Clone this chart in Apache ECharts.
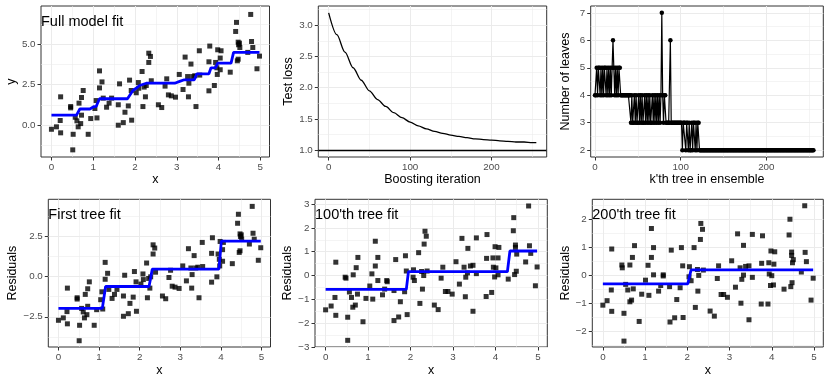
<!DOCTYPE html>
<html>
<head>
<meta charset="utf-8">
<script src="https://cdn.jsdelivr.net/npm/echarts@6/dist/echarts.min.js"></script>
<style>
  body { margin: 0; background: #fff; }
  #chart { width: 830px; height: 382px; }
</style>
</head>
<body>
<div id="chart"></div>
<script>
// ---- data ----
var xFull = [0,0.12,0.22,0.21,0.22,0.46,0.46,0.52,0.51,0.57,0.61,0.64,0.66,0.70,0.72,0.72,0.76,0.88,0.94,1.04,1.07,1.09,1.15,1.15,1.21,1.24,1.32,1.38,1.44,1.60,1.60,1.63,1.72,1.76,1.84,1.87,1.91,1.92,2.03,2.08,2.09,2.17,2.19,2.25,2.22,2.27,2.33,2.33,2.37,2.39,2.56,2.64,2.72,2.76,2.80,2.87,2.97,3.06,3.15,3.20,3.26,3.28,3.29,3.34,3.38,3.43,3.46,3.54,3.55,3.77,3.77,3.79,3.90,3.93,3.97,3.96,3.98,4.04,4.06,4.04,4.28,4.41,4.43,4.45,4.47,4.47,4.48,4.51,4.50,4.70,4.79,4.77,4.82,4.92,4.98];
var yFull = [-0.25,-0.1,1.75,0.29,-0.47,1.15,1.07,-0.56,-1.52,0.49,0.27,-0.1,1.36,0.1,0.62,1.71,2.14,-0.56,0.41,1.03,1.52,0.45,3.35,2.30,2.67,1.67,1.11,1.36,1.67,1.26,0.0,2.55,0.16,0.8,1.19,2.78,2.14,0.31,2.0,2.63,2.28,3.31,1.15,1.75,2.35,2.45,4.44,3.87,4.24,2.74,1.26,1.09,2.41,2.86,1.87,1.81,1.73,3.13,2.20,4.2,3.0,1.75,2.59,3.77,3.0,3.05,1.15,4.59,3.09,2.12,3.91,4.88,2.45,3.87,3.13,3.54,4.65,3.42,4.59,4.14,3.27,5.78,6.34,3.97,4.07,5.12,4.96,4.79,5.06,4.49,5.16,6.83,4.79,3.48,4.26];
var fitFullX = [0,0.60,0.68,0.92,1.02,1.07,1.15,1.82,1.95,2.03,2.11,2.27,2.95,3.07,3.18,3.42,3.48,3.77,3.82,3.93,3.98,4.30,4.36,4.98];
var fitFullY = [0.62,0.62,1.0,1.0,1.15,1.15,1.63,1.63,2.14,2.28,2.45,2.59,2.59,2.7,2.8,2.8,3.17,3.17,3.54,3.54,3.83,3.83,4.49,4.49];

var resid1 = [-2.72,-2.57,-0.72,-2.18,-2.94,-1.32,-1.40,-3.03,-3.99,-1.98,-2.20,-2.57,-1.11,-2.37,-1.85,-0.76,-0.33,-3.03,-2.06,-1.44,-0.95,-2.02,0.88,-0.17,0.20,-0.80,-1.36,-1.11,-0.80,-1.21,-2.47,0.08,-2.31,-1.67,-1.28,0.31,-0.33,-2.16,-0.47,0.16,-0.19,0.84,-1.32,-0.72,-0.12,-0.02,1.97,1.40,1.77,0.27,-1.21,-1.38,-0.06,0.39,-0.60,-0.66,-0.74,0.66,-0.27,1.73,0.53,-0.72,0.12,1.30,0.53,0.58,-1.32,2.12,0.62,-0.35,1.44,2.41,-0.02,1.40,0.66,1.07,2.18,0.95,2.12,1.67,0.80,3.31,3.87,1.50,1.60,2.65,2.49,2.32,2.59,2.02,2.69,4.36,2.32,1.01,1.79];
var fit1X = [0,1.08,1.16,2.23,2.31,3.95,4.01,4.98];
var fit1Y = [-1.98,-1.98,-0.62,-0.62,0.46,0.46,2.2,2.2];

var x100 = [0,0.13,0.22,0.24,0.24,0.46,0.48,0.52,0.52,0.56,0.61,0.65,0.64,0.70,0.72,0.75,0.76,0.88,0.95,1.04,1.09,1.11,1.17,1.17,1.23,1.23,1.34,1.39,1.44,1.45,1.61,1.61,1.65,1.72,1.76,1.86,1.88,1.90,1.92,2.06,2.07,2.09,2.19,2.22,2.26,2.28,2.31,2.32,2.34,2.37,2.39,2.56,2.65,2.72,2.76,2.82,2.88,2.98,3.07,3.15,3.21,3.26,3.29,3.30,3.34,3.35,3.41,3.47,3.47,3.55,3.55,3.78,3.79,3.80,3.91,3.94,3.95,3.98,3.99,4.01,4.06,4.06,4.08,4.30,4.42,4.43,4.45,4.47,4.47,4.49,4.50,4.71,4.78,4.80,4.83,4.94,4.98];
var resid100 = [-1.44,-1.28,-0.92,0.56,-1.67,-0.07,-0.11,-1.75,-2.72,-0.69,-0.92,0.03,-1.33,-1.24,0.33,-0.78,0.76,-1.94,-0.96,-0.44,0.07,-0.99,1.44,0.40,0.76,-0.21,-0.81,-0.57,-0.21,-0.26,-0.63,-1.89,0.67,-1.74,-1.10,-0.68,0.83,0.19,-1.64,-0.07,0.24,-0.21,0.96,-1.17,0.17,-0.57,0.0,1.32,1.86,1.65,0.19,-1.24,-1.43,-0.11,0.35,-0.67,-0.67,-0.78,0.58,-0.36,1.56,0.35,-0.89,-0.07,0.11,1.14,0.40,-1.5,0.43,0.08,1.58,-0.88,0.72,1.72,-0.71,0.74,0.35,-0.06,1.21,0.32,0.74,0.03,1.18,-0.15,1.88,2.43,0.04,1.28,1.18,0.18,0.90,0.57,2.92,1.25,0.93,-0.43,0.36];
var fit100X = [0,1.90,1.95,4.28,4.34,4.98];
var fit100Y = [-0.58,-0.58,0.16,0.16,1.03,1.03];

var x200 = [0,0.10,0.20,0.21,0.21,0.45,0.46,0.50,0.50,0.54,0.59,0.64,0.64,0.68,0.70,0.72,0.75,0.86,0.92,1.01,1.07,1.09,1.15,1.15,1.20,1.20,1.32,1.37,1.43,1.43,1.58,1.59,1.62,1.70,1.75,1.83,1.86,1.89,1.90,2.04,2.05,2.09,2.16,2.19,2.24,2.25,2.27,2.31,2.32,2.36,2.38,2.54,2.64,2.71,2.74,2.80,2.86,2.95,3.05,3.14,3.19,3.25,3.27,3.29,3.33,3.33,3.38,3.46,3.46,3.54,3.54,3.75,3.76,3.78,3.91,3.93,3.94,3.97,3.98,4.00,4.04,4.05,4.07,4.29,4.41,4.43,4.45,4.47,4.47,4.48,4.49,4.51,4.70,4.78,4.79,4.82,4.93,4.98];
var resid200 = [-1.06,-0.90,-0.52,0.94,-1.28,0.37,0.27,-1.35,-2.34,-0.32,-0.52,0.37,-0.94,-0.88,0.64,-0.48,1.06,-1.64,-0.67,-0.17,0.36,-0.71,1.67,0.64,0.99,0.02,-0.56,-0.36,0.02,-0.02,-0.40,-1.66,0.90,-1.51,-0.86,-0.44,0.99,0.34,-1.50,-0.05,0.31,-0.19,0.99,-1.14,0.21,-0.56,0.0,1.28,1.85,1.64,0.19,-1.27,-1.45,-0.11,0.34,-0.68,-0.68,-0.78,0.52,-0.42,1.48,0.27,-0.99,-0.14,0.01,1.07,0.32,-1.58,0.34,-0.07,1.46,-1.02,0.43,1.41,-1.02,0.45,0.05,-0.36,0.87,-0.01,-0.34,0.40,0.84,-0.49,1.44,2.0,-0.40,0.83,0.71,-0.26,0.45,0.56,0.12,2.48,0.82,0.49,-0.88,-0.10];
var fit200X = [0,2.01,2.05,2.09,4.98];
var fit200Y = [-0.3,-0.3,-0.05,0.2,0.2];

var lossIter = [0,10,20,30,40,50,60,70,80,90,100,110,120,130,140,150,160,170,180,190,200,210,220,230,240,250,255];
var lossVal = [3.20,2.85,2.57,2.32,2.12,1.95,1.81,1.70,1.60,1.52,1.45,1.39,1.34,1.30,1.27,1.24,1.22,1.20,1.18,1.17,1.16,1.15,1.14,1.13,1.13,1.12,1.12];
var baseLoss = 1.0;

// number of leaves of tree k (k = 0..255)
var leaves = [
  4,4,5,4,5,5,4,5,4,5,4,5,5,4,5,4,5,4,5,4,5,6,5,4,5,4,5,4,5,5,4,
  4,4,4,4,4,4,4,4,4,4,4,
  3,4,3,3,4,3,4,3,3,4,3,4,3,4,3,3,4,3,4,3,4,3,4,3,3,4,3,4,3,4,3,4,3,4,3,4,7,4,3,4,4,
  3,3,3,3,3,6,3,3,3,3,3,3,3,3,3,3,3,3,3,
  2,3,3,3,2,3,3,2,3,2,2,3,2,3,3,2,3,2,3,3,
  2,2,2,2,2,2,2,2,2,2,2,2,2,2,2,2,2,2,2,2,2,2,2,2,2,2,2,2,2,2,2,2,2,2,2,2,2,2,2,2,
  2,2,2,2,2,2,2,2,2,2,2,2,2,2,2,2,2,2,2,2,2,2,2,2,2,2,2,2,2,2,2,2,2,2,2,2,2,2,2,2,
  2,2,2,2,2,2,2,2,2,2,2,2,2,2,2,2,2,2,2,2,2,2,2,2,2,2,2,2,2,2,2,2,2,2,2,2,2,2,2,2,
  2,2,2,2,2,2,2,2,2,2,2,2,2,2
];

// ticks
var ticksX5 = [0,1,2,3,4,5];
var minorX5 = [0.5,1.5,2.5,3.5,4.5];
var ticksIter = [0,100,200];
var minorIter = [50,150,250];
var ticksYFull = [0,2.5,5];
var minorYFull = [-1.25,1.25,3.75,6.25];
var ticksLoss = [1,1.5,2,2.5,3];
var minorLoss = [1.25,1.75,2.25,2.75,3.25];
var ticksLeaves = [2,3,4,5,6,7];
var minorLeaves = [2.5,3.5,4.5,5.5,6.5];
var ticksR1 = [-2.5,0,2.5];
var minorR1 = [-3.75,-1.25,1.25,3.75];
var ticksR100 = [-3,-2,-1,0,1,2,3];
var minorR100 = [-2.5,-1.5,-0.5,0.5,1.5,2.5];
var ticksR200 = [-2,-1,0,1,2];
var minorR200 = [-2.5,-1.5,-0.5,0.5,1.5,2.5];

// ---- layout helpers ----
var FONT = 'Liberation Sans, Arial, Helvetica, sans-serif';
var grids = [], xAxes = [], yAxes = [], series = [], titles = [];

function fmt(d) {
    return function (v) {
        var s = d == null ? String(v) : v.toFixed(d);
        return s.replace('-', '\u2212');
    };
}

function mainAxis(gi, dim, a) {
    return {
        type: 'value', gridIndex: gi, min: a.min, max: a.max,
        position: dim === 'x' ? 'bottom' : 'left',
        name: a.name, nameLocation: 'middle', nameGap: a.gap,
        nameTextStyle: { color: '#000', fontSize: 12.5, fontFamily: FONT },
        axisLine: { show: false, onZero: false },
        axisTick: { show: true, length: 3.5, customValues: a.ticks, lineStyle: { color: '#333', width: 1 } },
        axisLabel: { customValues: a.ticks, formatter: fmt(a.dec), color: '#4D4D4D', fontSize: 9.8, fontFamily: FONT, margin: 5.5 },
        splitLine: { show: true, lineStyle: { color: '#EBEBEB', width: 1 } }
    };
}

function minorAxis(gi, dim, a) {
    return {
        type: 'value', gridIndex: gi, min: a.min, max: a.max,
        position: dim === 'x' ? 'top' : 'right',
        axisLine: { show: false, onZero: false },
        axisTick: { show: false, customValues: a.minor },
        axisLabel: { show: false },
        splitLine: { show: true, lineStyle: { color: '#EBEBEB', width: 0.55 } }
    };
}

function addPanel(p) {
    var gi = grids.length;
    grids.push({
        left: p.box[0], top: p.box[1], width: p.box[2], height: p.box[3],
        show: true, borderColor: '#333', borderWidth: 1, backgroundColor: '#fff'
    });
    xAxes.push(minorAxis(gi, 'x', p.x));
    xAxes.push(mainAxis(gi, 'x', p.x));
    yAxes.push(minorAxis(gi, 'y', p.y));
    yAxes.push(mainAxis(gi, 'y', p.y));
    if (p.title) {
        titles.push({
            text: p.title, left: p.box[0], top: p.box[1] + 8.5, padding: 0,
            textStyle: { fontSize: 14.5, fontWeight: 'normal', color: '#000', fontFamily: FONT }
        });
    }
    return { x: xAxes.length - 1, y: yAxes.length - 1 };
}

function pairs(xs, ys) {
    return xs.map(function (x, i) { return [x, ys[i]]; });
}

function scatter(ax, xs, ys) {
    series.push({
        type: 'scatter', xAxisIndex: ax.x, yAxisIndex: ax.y, data: pairs(xs, ys),
        symbol: 'rect', symbolSize: 5, itemStyle: { color: '#000' }, z: 2
    });
}

function fitLine(ax, xs, ys) {
    series.push({
        type: 'line', xAxisIndex: ax.x, yAxisIndex: ax.y, data: pairs(xs, ys),
        showSymbol: false, lineStyle: { color: '#0000FF', width: 2.8 }, z: 4
    });
}

var xRange = { min: -0.25, max: 5.22, ticks: ticksX5, minor: minorX5, dec: null, name: 'x' };

// top row
var p1 = addPanel({
    box: [41, 6, 228.5, 151], title: 'Full model fit',
    x: Object.assign({}, xRange, { gap: 15 }),
    y: { min: -1.96, max: 7.35, ticks: ticksYFull, minor: minorYFull, dec: 1, name: 'y', gap: 22 }
});
scatter(p1, xFull, yFull);
fitLine(p1, fitFullX, fitFullY);

var p2 = addPanel({
    box: [318.3, 6, 228.4, 151],
    x: { min: -12.75, max: 267.75, ticks: ticksIter, minor: minorIter, dec: null, name: 'Boosting iteration', gap: 15 },
    y: { min: 0.89, max: 3.31, ticks: ticksLoss, minor: minorLoss, dec: 1, name: 'Test loss', gap: 23 }
});
series.push({
    type: 'line', xAxisIndex: p2.x, yAxisIndex: p2.y, data: pairs(lossIter, lossVal),
    showSymbol: false, smooth: 0.3, smoothMonotone: 'x',
    lineStyle: { color: '#000', width: 1.3 },
    markLine: {
        silent: true, symbol: 'none', label: { show: false },
        lineStyle: { color: '#000', type: 'solid', width: 1.3 },
        data: [{ yAxis: baseLoss }]
    }
});

var p3 = addPanel({
    box: [590.7, 6, 232.6, 151],
    x: { min: -5, max: 266.5, ticks: ticksIter, minor: minorIter, dec: null, name: "k'th tree in ensemble", gap: 15 },
    y: { min: 1.75, max: 7.25, ticks: ticksLeaves, minor: minorLeaves, dec: null, name: 'Number of leaves', gap: 19 }
});
series.push({
    type: 'line', xAxisIndex: p3.x, yAxisIndex: p3.y,
    data: leaves.map(function (v, k) { return [k, v]; }),
    showSymbol: true, symbol: 'circle', symbolSize: 4.5,
    itemStyle: { color: '#000' }, lineStyle: { color: '#000', width: 1.2 }
});

// bottom row
var p4 = addPanel({
    box: [48.3, 199.3, 222.2, 147.7], title: 'First tree fit',
    x: Object.assign({}, xRange, { gap: 17 }),
    y: { min: -4.38, max: 4.8, ticks: ticksR1, minor: minorR1, dec: 1, name: 'Residuals', gap: 29.5 }
});
scatter(p4, xFull, resid1);
fitLine(p4, fit1X, fit1Y);

var p5 = addPanel({
    box: [315, 199.3, 232.3, 147.7], title: "100'th tree fit",
    x: Object.assign({}, xRange, { gap: 17 }),
    y: { min: -3.0, max: 3.2, ticks: ticksR100, minor: minorR100, dec: null, name: 'Residuals', gap: 20 }
});
scatter(p5, x100, resid100);
fitLine(p5, fit100X, fit100Y);

var p6 = addPanel({
    box: [592.3, 199.3, 231, 147.7], title: "200'th tree fit",
    x: Object.assign({}, xRange, { gap: 17 }),
    y: { min: -2.55, max: 2.71, ticks: ticksR200, minor: minorR200, dec: null, name: 'Residuals', gap: 20 }
});
scatter(p6, x200, resid200);
fitLine(p6, fit200X, fit200Y);

var chart = echarts.init(document.getElementById('chart'), null, { renderer: 'canvas' });
chart.setOption({
    animation: false,
    backgroundColor: '#fff',
    textStyle: { fontFamily: FONT },
    title: titles,
    grid: grids,
    xAxis: xAxes,
    yAxis: yAxes,
    series: series
});
</script>
</body>
</html>
